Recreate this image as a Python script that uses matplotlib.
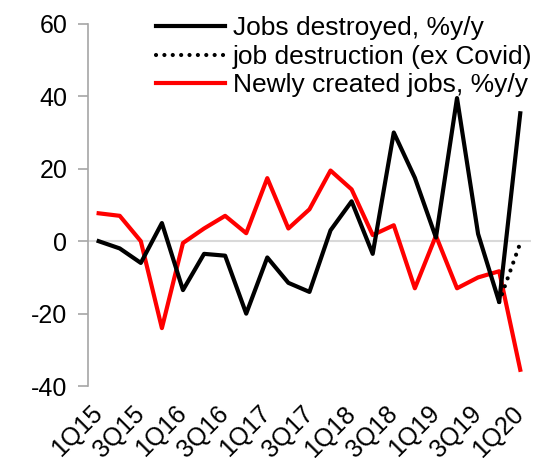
import numpy as np
import matplotlib
matplotlib.use("Agg")
from matplotlib import pyplot as plt

plt.rcParams['font.family'] = ['Liberation Sans', 'DejaVu Sans']
plt.rcParams['axes.unicode_minus'] = False

# 분기 (1Q15 ~ 1Q20)
quarters = ['1Q15', '2Q15', '3Q15', '4Q15', '1Q16', '2Q16', '3Q16', '4Q16',
            '1Q17', '2Q17', '3Q17', '4Q17', '1Q18', '2Q18', '3Q18', '4Q18',
            '1Q19', '2Q19', '3Q19', '4Q19', '1Q20']

jobs_destroyed = [0, -2, -6, 5, -13.5, -3.5, -4, -20, -4.5, -11.5, -14,
                  3, 11, -3.5, 30, 17.5, 1, 39.5, 2, -16.8, 35.3]
ex_covid = [np.nan] * 19 + [-16.8, -0.5]
newly_created = [7.7, 7, 0, -24, -0.5, 3.5, 7, 2.2, 17.4, 3.5, 8.8,
                 19.5, 14.3, 1.7, 4.4, -13, 1.5, -13, -10, -8.3, -35.5]

x = np.arange(len(quarters))

fig = plt.figure(figsize=(5.34, 4.58), dpi=100)
ax = fig.add_axes([0.165, 0.157, 0.829, 0.791])

ax.axhline(0, color='#d9d9d9', lw=1.5, zorder=1)
ax.plot(x, jobs_destroyed, color='black', lw=3, label='Jobs destroyed, %y/y', zorder=3)
ax.plot(x, ex_covid, color='black', lw=3, ls=(0, (0.01, 2.0)), dash_capstyle='round',
        label='job destruction (ex Covid)', zorder=3)
ax.plot(x, newly_created, color='#ff0000', lw=3, label='Newly created jobs, %y/y', zorder=2)

ax.set_xlim(-0.5, 20.5)
ax.set_ylim(-40, 60)
ax.set_yticks([-40, -20, 0, 20, 40, 60])
ax.set_xticks(x[::2])
ax.set_xticklabels(quarters[::2], rotation=45, ha='right', va='center',
                   rotation_mode='anchor')

for s in ['top', 'right', 'bottom']:
    ax.spines[s].set_visible(False)
ax.spines['left'].set_color('#a6a6a6')
ax.spines['left'].set_linewidth(1.2)
ax.tick_params(axis='y', length=7, width=1.2, color='#a6a6a6', labelsize=18, pad=8)
ax.tick_params(axis='x', length=0, labelsize=18, pad=17)

leg = ax.legend(loc='upper right', bbox_to_anchor=(1.027, 1.05), frameon=False,
                fontsize=19, handlelength=2.6, handletextpad=0.3,
                labelspacing=0.17, borderaxespad=0)

fig.savefig('out.png', dpi=100)
